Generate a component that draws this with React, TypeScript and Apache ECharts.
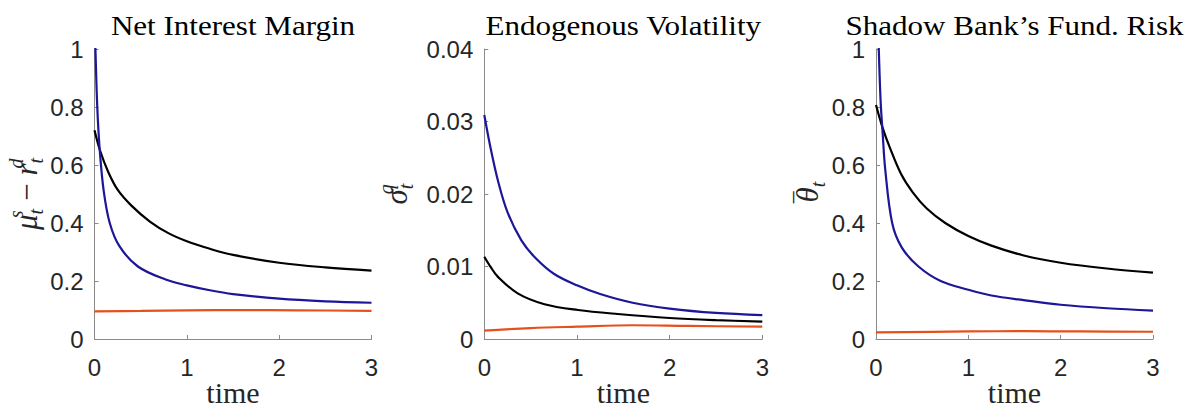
import React, { useEffect, useRef } from "react";
import * as echarts from "echarts";

// ---- Data ----
const timeTicks = [0, 1, 2, 3];

// Panel 1: Net Interest Margin
const nimBlueT = [0, 0.01, 0.03, 0.057, 0.1, 0.165, 0.27, 0.47, 0.77, 1.0, 1.25, 1.5, 2.0, 2.5, 3.0];
const nimBlue = [1.1, 1.0, 0.8, 0.65, 0.51, 0.4, 0.32, 0.25, 0.205, 0.185, 0.168, 0.155, 0.139, 0.13, 0.125];
const nimBlackT = [0, 0.06, 0.15, 0.25, 0.4, 0.6, 0.8, 1.0, 1.25, 1.5, 2.0, 2.5, 3.0];
const nimBlack = [0.72, 0.65, 0.575, 0.515, 0.46, 0.405, 0.365, 0.337, 0.311, 0.29, 0.263, 0.247, 0.236];
const nimOrangeT = [0, 0.5, 1.0, 1.6, 2.2, 3.0];
const nimOrange = [0.095, 0.097, 0.099, 0.1, 0.099, 0.097];

// Panel 2: Endogenous Volatility
const volBlueT = [0, 0.07, 0.15, 0.25, 0.4, 0.55, 0.75, 1.0, 1.25, 1.6, 2.0, 2.5, 3.0];
const volBlue = [0.0309, 0.0262, 0.0217, 0.0175, 0.0136, 0.0112, 0.009, 0.0074, 0.0062, 0.005, 0.0042, 0.0036, 0.0033];
const volBlackT = [0, 0.07, 0.145, 0.36, 0.65, 1.01, 1.44, 2.0, 2.5, 3.0];
const volBlack = [0.01135, 0.0099, 0.0086, 0.0063, 0.0048, 0.004, 0.00345, 0.0029, 0.0026, 0.0024];
const volOrangeT = [0, 0.5, 1.0, 1.6, 2.2, 3.0];
const volOrange = [0.00115, 0.0015, 0.0017, 0.0019, 0.0018, 0.0017];

// Panel 3: Shadow Bank's Fund. Risk
const riskBlueT = [0, 0.03, 0.05, 0.072, 0.1, 0.175, 0.28, 0.46, 0.7, 1.0, 1.25, 1.6, 2.0, 2.5, 3.0];
const riskBlue = [1.3, 1.0, 0.82, 0.71, 0.585, 0.4, 0.315, 0.25, 0.2, 0.17, 0.15, 0.134, 0.118, 0.106, 0.098];
const riskBlackT = [0, 0.07, 0.15, 0.27, 0.4, 0.55, 0.75, 1.0, 1.25, 1.6, 2.0, 2.5, 3.0];
const riskBlack = [0.807, 0.73, 0.66, 0.57, 0.505, 0.45, 0.4, 0.355, 0.322, 0.288, 0.263, 0.243, 0.229];
const riskOrangeT = [0, 1.0, 1.6, 2.2, 3.0];
const riskOrange = [0.023, 0.026, 0.027, 0.026, 0.025];

const titles = ["Net Interest Margin", "Endogenous Volatility", "Shadow Bank\u2019s Fund. Risk"];
const xLabel = "time";
const yMax = [1, 0.04, 1];
const yStep = [0.2, 0.01, 0.2];

// ---- Styling ----
const BLUE = "#1c1699";
const BLACK = "#000000";
const ORANGE = "#e5501c";
const AXIS = "#8a8a8a";
const TEXT = "#262626";

const grids = [
  { left: 94.5, top: 49, width: 277, height: 290 },
  { left: 484.3, top: 49, width: 278, height: 290 },
  { left: 876, top: 49, width: 277, height: 290 },
];

const zip = (t: number[], v: number[]) => t.map((x, i) => [x, v[i]]);

const SERIF = "Liberation Serif";
const mathRich = {
  m: { fontFamily: SERIF, fontStyle: "italic", fontSize: 31, color: TEXT, lineHeight: 40, verticalAlign: "middle" },
  p: { fontFamily: SERIF, fontStyle: "italic", fontSize: 20, color: TEXT, lineHeight: 20, verticalAlign: "top", width: 0, align: "left" },
  b: { fontFamily: SERIF, fontStyle: "italic", fontSize: 20, color: TEXT, lineHeight: 20, verticalAlign: "bottom" },
  ov: { fontFamily: SERIF, fontSize: 31, color: TEXT, lineHeight: 40, verticalAlign: "middle", width: 0, align: "left", padding: [0, 0, 0, 4] },
};

const yNames = [
  "{m|\u03bc}{p|s}{b|t}{m|\u2009\u2212\u2009r}{p|d}{b|t}",
  "{m|\u03c3}{p|q}{b|t}",
  "{ov|\u203e}{m|\u03b8}{b|t}",
];
const yNameGaps = [42, 68, 48];

export default function App() {
  const ref = useRef<HTMLDivElement>(null);
  useEffect(() => {
    if (!ref.current) return;
    const chart = echarts.init(ref.current, undefined, { renderer: "svg" });
    const panels = [
      [zip(nimOrangeT, nimOrange), zip(nimBlackT, nimBlack), zip(nimBlueT, nimBlue)],
      [zip(volOrangeT, volOrange), zip(volBlackT, volBlack), zip(volBlueT, volBlue)],
      [zip(riskOrangeT, riskOrange), zip(riskBlackT, riskBlack), zip(riskBlueT, riskBlue)],
    ];
    const colors = [ORANGE, BLACK, BLUE];
    const series: any[] = [];
    panels.forEach((p, gi) =>
      p.forEach((d, si) =>
        series.push({
          type: "line",
          xAxisIndex: gi,
          yAxisIndex: gi,
          data: d,
          showSymbol: false,
          smooth: 0.35,
          clip: true,
          lineStyle: { color: colors[si], width: 2.2 },
          itemStyle: { color: colors[si] },
          z: 2 + si,
        })
      )
    );
    chart.setOption({
      animation: false,
      backgroundColor: "#ffffff",
      grid: grids.map((g) => ({ ...g, containLabel: false, outerBoundsMode: "none" })),
      xAxis: grids.map((_, i) => ({
        type: "value",
        gridIndex: i,
        min: timeTicks[0],
        max: timeTicks[timeTicks.length - 1],
        interval: 1,
        name: xLabel,
        nameLocation: "middle",
        nameGap: 38,
        nameMoveOverlap: false,
        nameTextStyle: { fontFamily: SERIF, fontSize: 30, color: TEXT },
        axisLine: { show: true, lineStyle: { color: AXIS, width: 1 } },
        axisTick: { show: true, inside: true, length: 4, lineStyle: { color: AXIS } },
        axisLabel: { fontFamily: "Liberation Sans", fontSize: 24, color: TEXT, margin: 16 },
        splitLine: { show: false },
      })),
      yAxis: grids.map((_, i) => ({
        type: "value",
        gridIndex: i,
        min: 0,
        max: yMax[i],
        interval: yStep[i],
        name: yNames[i],
        nameLocation: "middle",
        nameRotate: 90,
        nameGap: yNameGaps[i],
        nameTextStyle: { rich: mathRich },
        axisLine: { show: true, lineStyle: { color: AXIS, width: 1 } },
        axisTick: { show: true, inside: true, length: 4, lineStyle: { color: AXIS } },
        axisLabel: { fontFamily: "Liberation Sans", fontSize: 24, color: TEXT, margin: 11 },
        splitLine: { show: false },
      })),
      graphic: grids.map((g, i) => ({
        type: "text",
        x: g.left + g.width / 2,
        y: 26,
        scaleX: 1.15,
        style: {
          text: titles[i],
          fontFamily: SERIF,
          fontSize: 27,
          fill: "#000",
          align: "center",
          verticalAlign: "middle",
        },
      })),
      series,
    });
    return () => chart.dispose();
  }, []);
  return (
    <div
      ref={ref}
      style={{ position: "fixed", left: 0, top: 0, width: 1186, height: 405, background: "#fff" }}
    />
  );
}
